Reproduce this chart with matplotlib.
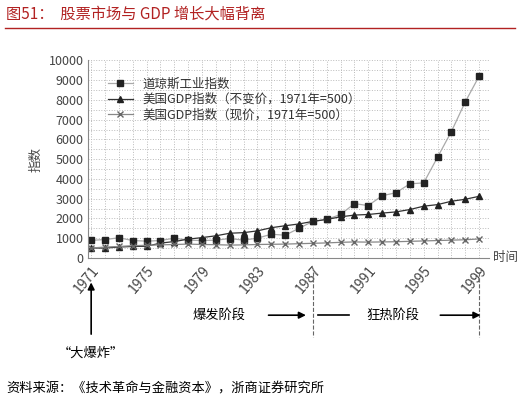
import matplotlib
matplotlib.use("Agg")
import matplotlib.pyplot as plt

plt.rcParams["font.family"] = ["Noto Sans CJK SC", "DejaVu Sans"]

years = list(range(1971, 2000))
dow = [890, 930, 1020, 880, 850, 880, 1000, 900, 880, 900, 980, 900, 1000,
       1200, 1150, 1500, 1850, 1950, 2200, 2750, 2650, 3150, 3300, 3750,
       3800, 5100, 6400, 7900, 9200]
gdp_const = [500, 500, 550, 580, 590, 750, 830, 950, 1030, 1120, 1250, 1280,
             1370, 1530, 1630, 1720, 1850, 1950, 2080, 2170, 2200, 2270, 2330,
             2450, 2620, 2700, 2870, 2970, 3120]
gdp_curr = [500, 550, 580, 620, 640, 660, 680, 700, 680, 670, 650, 660, 680,
            690, 700, 720, 740, 760, 790, 810, 800, 810, 820, 840, 860, 880,
            900, 920, 960]
xticks = [1971, 1975, 1979, 1983, 1987, 1991, 1995, 1999]

fig = plt.figure(figsize=(5.2, 4.03), dpi=100)
fig.text(0.012, 0.965, "图51：  股票市场与 GDP 增长大幅背离", color="#b22222",
         fontsize=11, va="center")
fig.add_artist(plt.Line2D([0.01, 0.99], [0.93, 0.93], color="#b22222", lw=1))
fig.text(0.012, 0.035, "资料来源：《技术革命与金融资本》，浙商证券研究所",
         fontsize=9.5, va="center")

ax = fig.add_axes([0.17, 0.36, 0.77, 0.49])
ax.plot(years, dow, "-s", color="#aaaaaa", mfc="#222222", mec="#222222",
        ms=4.5, lw=0.9, label="道琼斯工业指数")
ax.plot(years, gdp_const, "-^", color="#333333", mfc="#222222", mec="#222222",
        ms=4.5, lw=0.9, label="美国GDP指数（不变价，1971年=500）")
ax.plot(years, gdp_curr, "-x", color="#888888", mec="#666666",
        ms=4, lw=0.9, label="美国GDP指数（现价，1971年=500）")
ax.set_xlim(1970.8, 1999.7)
ax.set_ylim(0, 10000)
ax.set_yticks(range(0, 10001, 1000))
ax.set_xticks(xticks)
ax.set_xticklabels([str(y) for y in xticks], rotation=50, ha="right",
                   rotation_mode="anchor", fontsize=10, color="#444444")
ax.tick_params(axis="y", labelsize=9, labelcolor="#444444", length=0)
ax.tick_params(axis="x", length=0)
ax.set_xticks(years, minor=True)
ax.set_yticks(range(500, 10000, 1000), minor=True)
ax.tick_params(which="minor", length=0)
ax.grid(True, which="both", ls=":", color="#bbbbbb", lw=0.7)
for s in ax.spines.values():
    s.set_visible(False)
ax.spines["bottom"].set_visible(True)
ax.spines["left"].set_visible(True)
ax.spines["left"].set_color("#888888")
ax.spines["bottom"].set_color("#888888")
ax.set_ylabel("指数", fontsize=9, color="#444444")
ax.text(1.01, 0.0, "时间", transform=ax.transAxes, fontsize=9, color="#444444",
        va="center")
ax.legend(loc="upper left", bbox_to_anchor=(0.02, 0.97), frameon=False,
          fontsize=9, handlelength=2, labelspacing=0.2, labelcolor="#333333")

# stage annotations below the axis
tr = ax.get_xaxis_transform()
ax.annotate("", xy=(1971, -0.11), xytext=(1971, -0.4), xycoords=tr,
            arrowprops=dict(arrowstyle="-|>", color="black", lw=1.2))
ax.text(1971, -0.5, "“大爆炸”", transform=tr, ha="center", fontsize=9.5)
for x in (1987, 1999):
    ax.plot([x, x], [-0.07, -0.4], transform=tr, ls="--", color="#666666",
            lw=0.8, clip_on=False)
ax.annotate("", xy=(1986.7, -0.29), xytext=(1983.6, -0.29), xycoords=tr,
            arrowprops=dict(arrowstyle="-|>", color="black", lw=1.2))
ax.text(1980.2, -0.29, "爆发阶段", transform=tr, ha="center", va="center",
        fontsize=9.5)
ax.annotate("", xy=(1999.3, -0.29), xytext=(1996.0, -0.29), xycoords=tr,
            arrowprops=dict(arrowstyle="-|>", color="black", lw=1.2))
ax.plot([1987.4, 1989.6], [-0.29, -0.29], transform=tr, color="black",
        lw=1.2, clip_on=False)
ax.text(1992.8, -0.29, "狂热阶段", transform=tr, ha="center", va="center",
        fontsize=9.5)

fig.savefig("out.png", dpi=100)
